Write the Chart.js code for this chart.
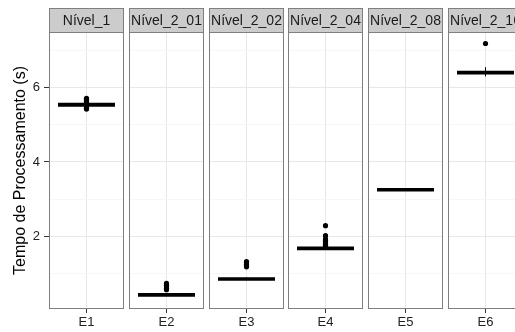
<!DOCTYPE html>
<html>
<head>
<meta charset="utf-8">
<script src="https://cdn.jsdelivr.net/npm/chart.js@4.4.0/dist/chart.umd.min.js"></script>
<style>
body { margin: 0; background: #fff; }
#wrap { position: relative; width: 515px; height: 332px; overflow: hidden; }
#wrap canvas { position: absolute; top: 0; }
</style>
</head>
<body>
<div id="wrap"></div>
<script>
// one facet per level, one box per facet
const facets = ['Nível_1', 'Nível_2_01', 'Nível_2_02', 'Nível_2_04', 'Nível_2_08', 'Nível_2_16'];
const categories = ['E1', 'E2', 'E3', 'E4', 'E5', 'E6'];
const q1 = [5.53, 0.40, 0.83, 1.66, 3.245, 6.40];
const medians = [5.54, 0.41, 0.84, 1.67, 3.25, 6.41];
const q3 = [5.56, 0.42, 0.85, 1.68, 3.255, 6.42];
const whiskerLow = [5.50, 0.38, 0.81, 1.64, 3.23, 6.31];
const whiskerHigh = [5.60, 0.45, 0.88, 1.71, 3.27, 6.56];
const outliers = [
  [5.43, 5.45, 5.47, 5.62, 5.65, 5.68, 5.70, 5.72],
  [0.55, 0.59, 0.63, 0.67, 0.72],
  [1.17, 1.20, 1.24, 1.28, 1.31],
  [1.73, 1.76, 1.78, 1.81, 1.85, 1.88, 1.92, 2.01, 2.28],
  [],
  [7.20]
];
const yTickLabels = [2, 4, 6];
const yTitle = 'Tempo de Processamento (s)';

Chart.defaults.font.family = '"Liberation Sans", Arial, sans-serif';
Chart.defaults.color = '#333';

const wrap = document.getElementById('wrap');
const yAxisWidth = 49;
const panelWidth = 75;
const panelStep = 79.8;
const stripHeight = 24;

const facetPlugin = {
  id: 'facet',
  afterDatasetsDraw(chart, args, opts) {
    // median line across the box
    const bar = chart.getDatasetMeta(1).data[0];
    const y = chart.scales.y.getPixelForValue(opts.median);
    const ctx = chart.ctx;
    ctx.save();
    ctx.strokeStyle = '#000';
    ctx.lineWidth = 2;
    ctx.beginPath();
    ctx.moveTo(bar.x - bar.width / 2, y);
    ctx.lineTo(bar.x + bar.width / 2, y);
    ctx.stroke();
    ctx.restore();
  },
  afterDraw(chart, args, opts) {
    const a = chart.chartArea;
    const ctx = chart.ctx;
    ctx.save();
    ctx.strokeStyle = '#7f7f7f';
    ctx.lineWidth = 1;
    ctx.strokeRect(a.left + 0.5, a.top + 0.5, a.right - a.left - 1, a.bottom - a.top - 1);
    ctx.fillStyle = '#cccccc';
    ctx.fillRect(a.left, a.top - stripHeight, a.right - a.left, stripHeight);
    ctx.strokeRect(a.left + 0.5, a.top - stripHeight + 0.5, a.right - a.left - 1, stripHeight);
    ctx.fillStyle = '#1a1a1a';
    ctx.font = '14px "Liberation Sans", Arial, sans-serif';
    ctx.textAlign = 'center';
    ctx.textBaseline = 'middle';
    ctx.fillText(opts.label, (a.left + a.right) / 2, a.top - stripHeight / 2 + 1);
    ctx.restore();
  }
};

for (let i = 0; i < categories.length; i++) {
  const first = i === 0;
  const cat = categories[i];
  const w = first ? yAxisWidth + panelWidth : panelWidth;
  const left = first ? 0 : Math.round(yAxisWidth + i * panelStep);
  const canvas = document.createElement('canvas');
  canvas.width = w;
  canvas.height = 332;
  canvas.style.left = left + 'px';
  canvas.style.width = w + 'px';
  canvas.style.height = '332px';
  wrap.appendChild(canvas);

  new Chart(canvas, {
    type: 'bar',
    data: {
      labels: [cat],
      datasets: [
        {
          type: 'line',
          data: [{x: cat, y: whiskerLow[i]}, {x: cat, y: whiskerHigh[i]}],
          borderColor: '#000',
          borderWidth: 1,
          pointRadius: 0,
          order: 3
        },
        {
          data: [[q1[i], q3[i]]],
          backgroundColor: '#000',
          borderWidth: 0,
          inflateAmount: 1.5,
          barPercentage: 0.72,
          categoryPercentage: 1,
          order: 2
        },
        {
          type: 'line',
          data: outliers[i].map(v => ({x: cat, y: v})),
          showLine: false,
          pointRadius: 2.6,
          pointBackgroundColor: '#000',
          pointBorderWidth: 0,
          order: 1
        }
      ]
    },
    options: {
      responsive: false,
      animation: false,
      devicePixelRatio: 1,
      layout: { autoPadding: false, padding: { top: 32, left: 0, right: 0, bottom: 0 } },
      plugins: {
        legend: { display: false },
        tooltip: { enabled: false },
        facet: { label: facets[i], median: medians[i] }
      },
      scales: {
        x: {
          offset: true,
          grid: {
            offset: false,
            color: '#e8e8e8',
            tickColor: '#333',
            tickLength: 4
          },
          border: { display: false },
          ticks: { padding: 2, color: '#222', font: { size: 13 } },
          afterFit: s => { s.height = 23; }
        },
        y: {
          min: 0.03,
          max: 7.51,
          grid: {
            color: c => yTickLabels.includes(c.tick.value) ? '#e8e8e8' : '#f7f7f7',
            tickColor: c => yTickLabels.includes(c.tick.value) ? '#333' : 'rgba(0,0,0,0)',
            tickLength: 5,
            drawTicks: first
          },
          border: { display: false },
          ticks: {
            display: first,
            stepSize: 1,
            includeBounds: false,
            autoSkip: false,
            padding: 4,
            color: '#222',
            font: { size: 13 },
            callback: v => yTickLabels.includes(v) ? String(v) : ''
          },
          title: {
            display: first,
            text: yTitle,
            color: '#000',
            font: { size: 16 },
            padding: { top: 11, bottom: 0 }
          },
          afterFit: s => { s.width = first ? yAxisWidth : 0; }
        }
      }
    },
    plugins: [facetPlugin]
  });
}
</script>
</body>
</html>
